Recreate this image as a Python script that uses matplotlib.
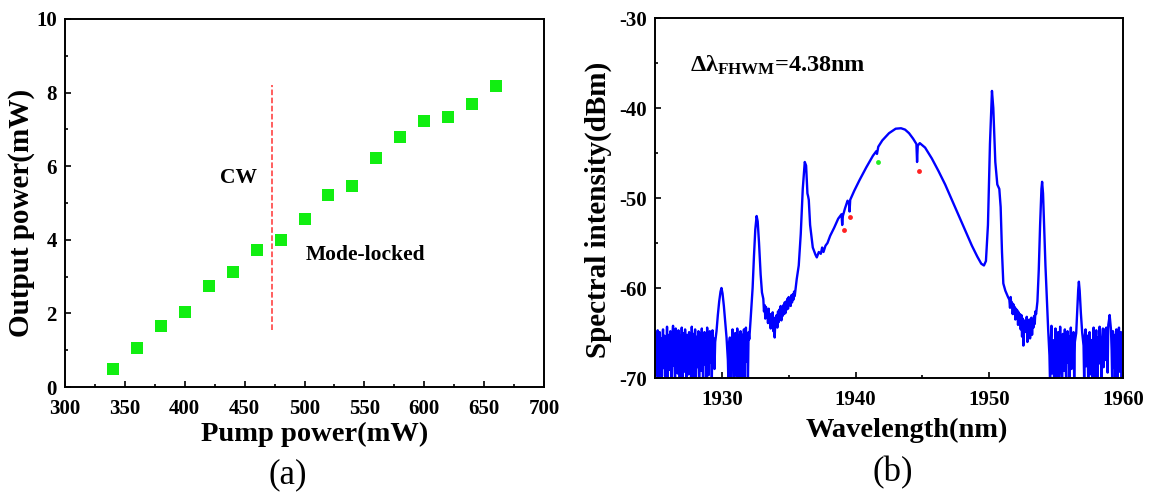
import numpy as np
import matplotlib
matplotlib.use("Agg")
import matplotlib.pyplot as plt
from matplotlib.ticker import MultipleLocator

plt.rcParams['font.family'] = ['Liberation Serif', 'DejaVu Serif']
plt.rcParams['font.weight'] = 'bold'
plt.rcParams['axes.unicode_minus'] = False
plt.rcParams['mathtext.fontset'] = 'custom'
plt.rcParams['mathtext.rm'] = 'Liberation Serif:bold'
plt.rcParams['mathtext.bf'] = 'Liberation Serif:bold'
plt.rcParams['mathtext.it'] = 'Liberation Serif:bold'

# (a) output power vs pump power
pump_mw = [340, 360, 380, 400, 420, 440, 460, 480, 500, 520, 540, 560, 580, 600, 620, 640, 660]
output_mw = [0.48, 1.05, 1.65, 2.05, 2.75, 3.13, 3.72, 4.0, 4.57, 5.23, 5.46, 6.22, 6.8, 7.22, 7.33, 7.68, 8.18]
threshold_pump = 473
threshold_span = [1.56, 8.2]

# (b) optical spectrum: noisy floor pieces sampled every 0.05 nm, smooth parts as breakpoints
floor_a = (1925.0, [-66.5, -69.8, -65.1, -68.2, -64.7, -71, -66.8, -64.9, -69.5, -65.6, -70.5, -66.2,
                    -64.6, -68.9, -65.3, -69.8, -65.9, -67.7, -64.3, -70.8, -66.1, -65.2, -69.1, -64.8,
                    -67.9, -71, -65.4, -64.2, -68.6, -66.3, -70.9, -64.5, -67.2, -65.8, -69.5, -64.7,
                    -66.9, -71, -65.3, -68.1, -64.4, -70.2, -66.6, -65.0, -69.3, -64.6, -67.5, -70.7,
                    -65.2, -66.4, -69.6, -64.9, -68.0, -65.5, -71, -64.3, -66.7, -69.9, -65.1, -67.3,
                    -64.6, -70.4, -66.0, -65.4, -68.8, -64.8, -71, -66.3, -65.0, -69.2, -64.5, -67.8,
                    -70.6, -65.7, -64.9, -68.5, -66.1, -71, -64.4, -67.0, -69.7, -65.3, -64.8, -68.3,
                    -66.5, -70.1, -64.7, -67.4, -65.6, -69.0, -66.0])
peak_1930 = ([1929.6, 1929.7, 1929.8, 1929.9, 1929.97, 1930.05, 1930.15, 1930.25, 1930.35],
             [-64.8, -63.0, -61.5, -60.4, -60.0, -60.6, -62.0, -63.8, -65.5])
floor_b = (1930.45, [-68, -71, -66.2, -65.5, -70.5, -67.3, -66.8, -64.6, -69.4, -71, -67.2, -65,
                     -68.1, -69.8, -64.5, -66.7, -70.6, -65.3, -66, -64.8, -71, -68.9, -65.2, -67.5,
                     -64.6, -69.9, -65.8, -64.4, -68.2, -66.4, -70.3, -64.9, -65.7])
peak_1932 = ([1932.15, 1932.3, 1932.4, 1932.5, 1932.6, 1932.68, 1932.78, 1932.9, 1933.0],
             [-63.5, -60.0, -56.5, -53.5, -52.0, -52.6, -55.0, -58.5, -60.5])
floor_c = (1933.1, [-61.2, -62.6, -61.9, -63.4, -62.1, -63.0, -62.5, -63.9, -62.3, -63.6, -62.9, -64.5,
                    -63.1, -64.0, -62.7, -64.8, -63.3, -65.5, -63.6, -64.2, -63.0, -64.4, -62.6, -63.8,
                    -62.4, -63.5, -62.0, -63.6, -62.5, -63.1, -61.9, -62.9, -61.6, -62.8, -61.5, -62.4,
                    -61.2, -62.3, -61.0, -61.9, -61.3, -62.0, -60.8, -61.6, -60.7, -61.3, -60.4, -60.9,
                    -60.3])
body = ([1935.6, 1935.75, 1935.9, 1936.05, 1936.2, 1936.3, 1936.4, 1936.45, 1936.5, 1936.6, 1936.8,
         1937.0, 1937.1, 1937.25, 1937.4, 1937.5, 1937.6, 1937.75, 1937.9, 1938.1, 1938.4, 1938.7,
         1938.95, 1939.0, 1939.05, 1939.2, 1939.4, 1939.5, 1939.55, 1939.6, 1939.9, 1940.3, 1940.8,
         1941.3, 1941.55, 1941.6, 1941.7, 1942.0, 1942.5, 1943.0, 1943.4, 1943.7, 1944.0, 1944.3,
         1944.55, 1944.6, 1944.65, 1944.8, 1945.2, 1945.7, 1946.2, 1946.7, 1947.2, 1947.7, 1948.2,
         1948.7, 1949.1, 1949.4, 1949.6, 1949.75, 1949.9, 1950.05, 1950.2, 1950.3, 1950.45, 1950.6,
         1950.75, 1950.85, 1950.95, 1951.05, 1951.2, 1951.4],
        [-59.0, -57.5, -54.0, -49.0, -46.0, -46.4, -49.5, -49.8, -50.2, -53.0, -55.5,
         -56.3, -56.6, -56.0, -56.2, -55.5, -56.0, -55.3, -55.0, -54.2, -53.3, -52.3,
         -51.8, -53.0, -52.0, -51.2, -50.3, -50.5, -51.5, -50.2, -49.2, -48.0, -46.6,
         -45.3, -44.8, -45.1, -44.3, -43.6, -42.8, -42.3, -42.25, -42.4, -42.8, -43.4,
         -44.0, -46.0, -44.2, -43.9, -44.4, -45.6, -47.0, -48.5, -50.2, -51.9, -53.6,
         -55.3, -56.5, -57.3, -57.5, -57.0, -53.0, -44.0, -38.1, -40.0, -46.0, -48.5,
         -49.0, -51.0, -56.0, -59.5, -60.3, -61.0])
floor_d = (1951.5, [-61.3, -62.2, -61.0, -62.0, -61.6, -62.9, -61.8, -62.8, -62.1, -63.5, -62.3, -63.3,
                    -62.5, -64.1, -62.7, -63.9, -62.9, -64.6, -63.0, -65.4, -63.4, -66.4, -63.6, -64.7,
                    -63.8, -64.9, -63.2, -66.0, -63.9, -64.2, -63.5, -65.6, -64.0, -63.3, -65.2, -63.7,
                    -64.4, -63.1, -64.0, -62.6, -62.9])
peak_1954 = ([1953.6, 1953.7, 1953.8, 1953.9, 1953.95, 1954.02, 1954.1, 1954.2, 1954.3, 1954.4],
             [-61.5, -58.0, -53.0, -49.0, -48.2, -49.5, -53.0, -57.5, -61.0, -64.5])
floor_e = (1954.5, [-67.5, -71, -65.9, -64.2, -69.5, -66.8, -65.8, -71, -67.6, -64.5, -68.2, -70.4,
                    -66, -64.9, -70.6, -67.1, -64.3, -67.4, -69.8, -71, -65.1, -66.3, -69.2, -64.6,
                    -67.9, -70.4, -66.5, -64.8, -68.3, -65.4, -71, -66.9, -64.4, -69.0, -65.7, -67.8,
                    -64.9, -70.2, -66.0])
peak_1957 = ([1956.5, 1956.58, 1956.65, 1956.7, 1956.76, 1956.85, 1956.95],
             [-65.0, -62.5, -60.2, -59.3, -60.3, -62.8, -65.0])
floor_f = (1957.05, [-66.4, -70.8, -65.2, -64.6, -68.7, -66.9, -65.3, -71, -67.3, -64.9, -67.5, -69.6,
                     -65.8, -70.3, -66.1, -64.4, -69.1, -71, -66.2, -64.7, -67.9, -70.9, -65.5, -68.4,
                     -64.3, -66.6, -67.0, -70.1, -65.6, -64.5, -68.8, -65.9, -64.6, -68.0, -64.4, -66.5,
                     -69.4, -64.1, -63.6, -63.0, -63.8, -64.6, -66.9, -71, -64.8, -67.6, -68.9, -65.2,
                     -70.2, -64.6, -66.3, -71, -65.0, -64.4, -69.3, -66.7, -64.9, -70.5, -68.0])
red_marks = ([1939.1, 1939.55, 1944.75], [-53.6, -52.1, -47.0])
green_marks = ([1941.7], [-46.0])

sample_step = 0.05


def floor_piece(piece):
    start, vals = piece
    return list(start + sample_step * np.arange(len(vals))), list(vals)


wl, dbm = [], []
for part in [floor_a, peak_1930, floor_b, peak_1932, floor_c, body, floor_d, peak_1954,
             floor_e, peak_1957, floor_f]:
    x, y = floor_piece(part) if isinstance(part[0], float) else part
    wl += list(x)
    dbm += list(y)

fig = plt.figure(figsize=(11.51, 4.94), dpi=100)
ax1 = fig.add_axes([65 / 1151, 1 - 387 / 494, 479 / 1151, 368 / 494])
ax2 = fig.add_axes([655 / 1151, 1 - 378 / 494, 468 / 1151, 360 / 494])

# panel (a)
ax1.plot(pump_mw, output_mw, 's', color='#11ee11', markersize=9, markeredgewidth=0)
ax1.plot([threshold_pump] * 2, threshold_span, '--', color='#ff3333', linewidth=1.1)
ax1.text(445, 5.67, 'CW', fontsize=15.5, fontweight='bold', ha='center', va='center')
ax1.text(501, 3.6, 'Mode-locked', fontsize=15.5, fontweight='bold', ha='left', va='center')
ax1.set_xlim(300, 700)
ax1.set_ylim(0, 10)
ax1.xaxis.set_major_locator(MultipleLocator(50))
ax1.xaxis.set_minor_locator(MultipleLocator(25))
ax1.yaxis.set_major_locator(MultipleLocator(2))
ax1.yaxis.set_minor_locator(MultipleLocator(1))
ax1.set_xlabel('Pump power(mW)', fontsize=20.5, fontweight='bold', va='top')
ax1.xaxis.set_label_coords(0.522, -0.094)
ax1.set_ylabel('Output power(mW)', fontsize=21, fontweight='bold')
ax1.yaxis.set_label_coords(-0.062, 0.472)
ax1.text(0.464, -0.239, '(a)', transform=ax1.transAxes, fontsize=25, fontweight='normal',
         ha='center', va='center')

# panel (b)
ax2.plot(wl, dbm, color='#0000ff', linewidth=1.7)
ax2.plot(*red_marks, 'o', color='#ff2222', markersize=3.5, markeredgewidth=0)
ax2.plot(*green_marks, 'o', color='#22ee22', markersize=3.5, markeredgewidth=0)
ax2.text(1927.6, -35.3, r'$\Delta\lambda_{FHWM}$=4.38nm', fontsize=17.5, fontweight='bold',
         ha='left', va='center')
ax2.set_xlim(1925, 1960)
ax2.set_ylim(-70, -30)
ax2.xaxis.set_major_locator(MultipleLocator(10))
ax2.xaxis.set_minor_locator(MultipleLocator(5))
ax2.yaxis.set_major_locator(MultipleLocator(10))
ax2.yaxis.set_minor_locator(MultipleLocator(5))
ax2.set_xlabel('Wavelength(nm)', fontsize=20.5, fontweight='bold', va='top')
ax2.xaxis.set_label_coords(0.539, -0.112)
ax2.set_ylabel('Spectral intensity(dBm)', fontsize=21, fontweight='bold')
ax2.yaxis.set_label_coords(-0.092, 0.466)
ax2.text(0.507, -0.263, '(b)', transform=ax2.transAxes, fontsize=25, fontweight='normal',
         ha='center', va='center')

for ax in (ax1, ax2):
    ax.tick_params(which='both', direction='in', top=False, right=False, width=1.2,
                   labelsize=15)
    ax.tick_params(axis='x', which='both', pad=8.5)
    ax.tick_params(axis='y', which='both', pad=6)
    ax.tick_params(which='major', length=4.5)
    ax.tick_params(which='minor', length=2.5)
    for lab in ax.get_xticklabels() + ax.get_yticklabels():
        lab.set_fontweight('bold')
    for s in ax.spines.values():
        s.set_linewidth(1.4)

fig.savefig('out.png', dpi=100)
